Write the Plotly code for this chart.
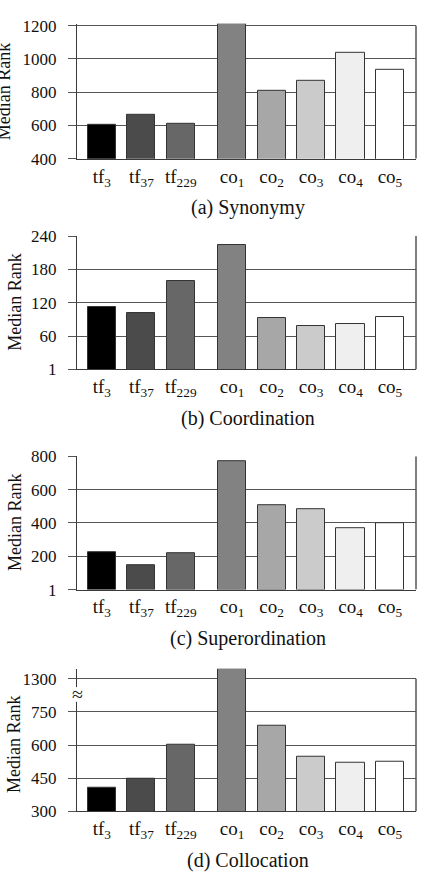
import plotly.graph_objects as go

# ---------------- data ----------------
categories = ["tf<sub>3</sub>", "tf<sub>37</sub>", "tf<sub>229</sub>",
              "co<sub>1</sub>", "co<sub>2</sub>", "co<sub>3</sub>", "co<sub>4</sub>", "co<sub>5</sub>"]
synonymy = [606, 663, 610, 1210, 806, 869, 1035, 933]
coordination = [113, 102, 159, 224, 93, 79, 83, 94]
superordination = [225, 150, 220, 771, 508, 482, 370, 398]
collocation = [409, 447, 600, 1460, 686, 545, 519, 525]

ticks_a = [400, 600, 800, 1000, 1200]
ticks_b = [1, 60, 120, 180, 240]
ticks_c = [1, 200, 400, 600, 800]
ticks_d = [300, 450, 600, 750, 1300]   # broken axis above 750

captions = ["(a) Synonymy", "(b) Coordination", "(c) Superordination", "(d) Collocation"]
bar_colors = ["#000000", "#4b4b4b", "#676767", "#828282", "#a7a7a7", "#cbcbcb", "#efefef", "#ffffff"]

# ---------------- layout helpers ----------------
W, H = 425, 886
FONT = "Liberation Serif, Times New Roman, Times, DejaVu Serif, serif"
xpos = [0, 1, 2, 3.3, 4.3, 5.3, 6.3, 7.3]
xrange_ = [-0.63, 7.96]
X0, X1 = 77, 416
x_dom = [X0 / W, X1 / W]
# pixel of top tick / bottom of each plotting area
panels_px = [(17, 153), (232, 368.3), (457, 593.3), (684.3, 820)]


def brk(v):
    # display transform for the broken axis of panel (d): 750..1300 squeezed into one step
    return v if v <= 750 else 750 + (v - 750) * 150 / 550


fig = go.Figure()

datasets = [
    (synonymy, ticks_a, ticks_a),
    (coordination, ticks_b, ticks_b),
    (superordination, ticks_c, ticks_c),
    ([brk(v) for v in collocation], [brk(t) for t in ticks_d], ticks_d),
]

annotations = []
shapes = []
ytitle_x = [4, 15, 15, 14]
caption_y = [203, 418, 643, 870]

for i, (vals, tvals, ttext) in enumerate(datasets):
    n = "" if i == 0 else str(i + 1)
    ptop, pbot = panels_px[i]
    ymin, ytop = tvals[0], tvals[-1]
    ymax = max(ytop, max(vals) + 1)
    s = (pbot - ptop) / (ytop - ymin)
    dom_top = ptop - (ymax - ytop) * s
    fig.add_trace(go.Bar(
        x=xpos, y=vals, width=0.71,
        marker=dict(color=bar_colors, line=dict(color="#333333", width=1)),
        xaxis="x" + n, yaxis="y" + n, showlegend=False,
    ))
    fig.layout["xaxis" + n] = dict(
        domain=x_dom, range=xrange_, anchor="y" + n,
        tickvals=xpos, ticktext=categories, ticks="",
        showline=True, linecolor="#3a3a3a", linewidth=1, mirror=False,
        showgrid=False, zeroline=False,
        tickfont=dict(family=FONT, size=19, color="#111"),
        ticklabelstandoff=0,
    )
    fig.layout["yaxis" + n] = dict(
        domain=[1 - pbot / H, 1 - dom_top / H], range=[ymin, ymax], anchor="x" + n,
        tickvals=tvals, ticktext=[str(t) for t in ttext],
        ticks="outside", ticklen=8, tickcolor="#555555", tickwidth=1,
        showline=True, linecolor="#3a3a3a", linewidth=1, mirror=False,
        showgrid=True, gridcolor="#555555", gridwidth=1, zeroline=False,
        tickfont=dict(family=FONT, size=17, color="#111"),
        ticklabelstandoff=8,
    )
    # right frame line
    shapes.append(dict(type="line", xref="paper", yref="y" + n,
                       x0=X1 / W, x1=X1 / W, y0=ymin, y1=ytop,
                       line=dict(color="#555555", width=1.5), layer="above"))
    annotations.append(dict(
        text="Median Rank", textangle=-90, xref="paper", yref="paper",
        x=ytitle_x[i] / W, y=1 - (ptop + pbot) / 2 / H, xanchor="center", yanchor="middle",
        showarrow=False, font=dict(family=FONT, size=18, color="#111"),
    ))
    annotations.append(dict(
        text=captions[i], xref="paper", yref="paper",
        x=248 / W, y=1 - caption_y[i] / H, xanchor="center", yanchor="middle",
        showarrow=False, font=dict(family=FONT, size=20, color="#111"),
    ))

# broken-axis marker on panel (d)
shapes.append(dict(type="rect", xref="paper", yref="paper",
                   x0=73 / W, x1=81 / W, y0=1 - 708 / H, y1=1 - 693 / H,
                   fillcolor="white", line=dict(width=0), layer="above"))
annotations.append(dict(text="≈", xref="paper", yref="paper",
                        x=77 / W, y=1 - 700 / H, xanchor="center", yanchor="middle",
                        showarrow=False, font=dict(family=FONT, size=20, color="#222")))

fig.update_layout(
    width=W, height=H, margin=dict(l=0, r=0, t=0, b=0),
    paper_bgcolor="white", plot_bgcolor="white",
    annotations=annotations, shapes=shapes, bargap=0,
)

fig.write_html("out.html")
